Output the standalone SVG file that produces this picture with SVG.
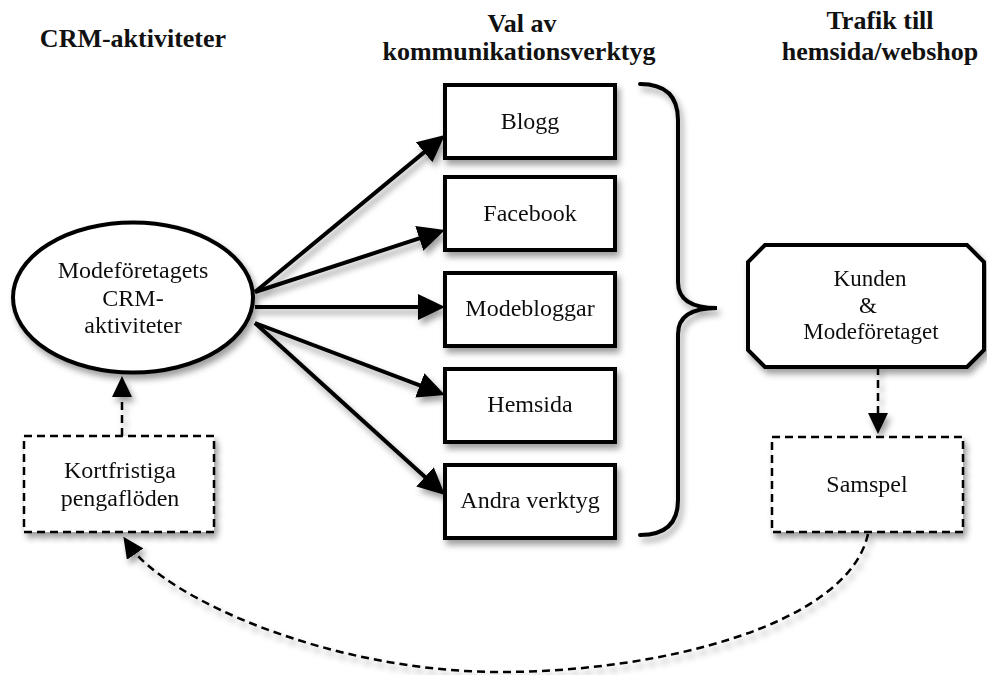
<svg xmlns="http://www.w3.org/2000/svg" width="987" height="675" viewBox="0 0 987 675">
  <style>
    text { font-family: "Liberation Serif", "Times New Roman", serif; fill: #111; text-anchor: middle; }
    .title { font-size: 26px; font-weight: bold; }
    .lbl { font-size: 24px; }
    .lbl-s { font-size: 23px; }
    .solid { fill: #fff; stroke: #000; stroke-width: 4; }
    .dash { fill: #fff; stroke: #000; stroke-width: 2.5; stroke-dasharray: 8 5; }
    .arrow { fill: none; stroke: #000; stroke-width: 4; marker-end: url(#headBig); }
    .darrow { fill: none; stroke: #000; stroke-width: 2.5; stroke-dasharray: 8 5; marker-end: url(#headSmall); }
    .brace { fill: none; stroke: #000; stroke-width: 4; stroke-linecap: round; }
  </style>
  <defs>
    <filter id="shadow" x="-20%" y="-20%" width="140%" height="150%">
      <feDropShadow dx="3" dy="5" stdDeviation="3" flood-color="#000" flood-opacity="0.38"/>
    </filter>
    <marker id="headBig" markerUnits="userSpaceOnUse" markerWidth="28" markerHeight="26" refX="12" refY="13" orient="auto">
      <path d="M0,0 L27,13 L0,26 z" fill="#000"/>
    </marker>
    <marker id="headSmall" markerUnits="userSpaceOnUse" markerWidth="22" markerHeight="20" refX="11" refY="10" orient="auto">
      <path d="M0,0 L21,10 L0,20 z" fill="#000"/>
    </marker>
  </defs>

  <rect width="987" height="675" fill="#fff"/>

  <!-- column headings -->
  <g id="headings">
    <text class="title" x="133" y="47">CRM-aktiviteter</text>
    <text class="title" x="522" y="32">Val av</text>
    <text class="title" x="519" y="60">kommunikationsverktyg</text>
    <text class="title" x="880" y="29">Trafik till</text>
    <text class="title" x="880" y="60">hemsida/webshop</text>
  </g>

  <!-- connectors -->
  <g id="connectors" filter="url(#shadow)">
    <path class="arrow" d="M255,292 L433.4,144.6"/>
    <path class="arrow" d="M255,292 L430.7,234.7"/>
    <path class="arrow" d="M255,307 L430,307"/>
    <path class="arrow" d="M255,323 L431,389.7"/>
    <path class="arrow" d="M255,323 L433.9,484.9"/>
    <path class="darrow" d="M122,436 L122,386"/>
    <path class="darrow" d="M878,367 L878,424"/>
    <path class="darrow" d="M868,534 C 848,625 660,672 500,672 C 330,672 165,598 129,545"/>
    <path class="brace" d="M640,84 Q678,84 678,120 L678,282 Q678,308 717,308 Q678,308 678,334 L678,500 Q678,535 640,535"/>
  </g>

  <!-- nodes -->
  <g id="crm" filter="url(#shadow)">
    <ellipse class="solid" cx="133" cy="297.5" rx="120" ry="75"/>
    <text class="lbl" x="133" y="278">Modeföretagets</text>
    <text class="lbl" x="133" y="306">CRM-</text>
    <text class="lbl" x="133" y="333">aktiviteter</text>
  </g>

  <g id="blogg" filter="url(#shadow)">
    <rect class="solid" x="445" y="85" width="170" height="73"/>
    <text class="lbl" x="530" y="129">Blogg</text>
  </g>
  <g id="facebook" filter="url(#shadow)">
    <rect class="solid" x="445" y="177" width="170" height="73"/>
    <text class="lbl" x="530" y="221">Facebook</text>
  </g>
  <g id="modebloggar" filter="url(#shadow)">
    <rect class="solid" x="445" y="273" width="170" height="73"/>
    <text class="lbl" x="530" y="316">Modebloggar</text>
  </g>
  <g id="hemsida" filter="url(#shadow)">
    <rect class="solid" x="445" y="369" width="170" height="73"/>
    <text class="lbl" x="530" y="412">Hemsida</text>
  </g>
  <g id="andra" filter="url(#shadow)">
    <rect class="solid" x="445" y="465" width="170" height="73"/>
    <text class="lbl" x="530" y="508">Andra verktyg</text>
  </g>

  <g id="kunden" filter="url(#shadow)">
    <path class="solid" d="M765,245 L967,245 L984,262 L984,350 L967,367 L765,367 L748,350 L748,262 z"/>
    <text class="lbl-s" x="870" y="286">Kunden</text>
    <text class="lbl-s" x="868" y="312.5">&amp;</text>
    <text class="lbl-s" x="871" y="339">Modeföretaget</text>
  </g>

  <g id="samspel" filter="url(#shadow)">
    <rect class="dash" x="772" y="437" width="191" height="95"/>
    <text class="lbl" x="867" y="492">Samspel</text>
  </g>

  <g id="kortfristiga" filter="url(#shadow)">
    <rect class="dash" x="24" y="436" width="190" height="96"/>
    <text class="lbl" x="120" y="478">Kortfristiga</text>
    <text class="lbl" x="120" y="506">pengaflöden</text>
  </g>
</svg>
